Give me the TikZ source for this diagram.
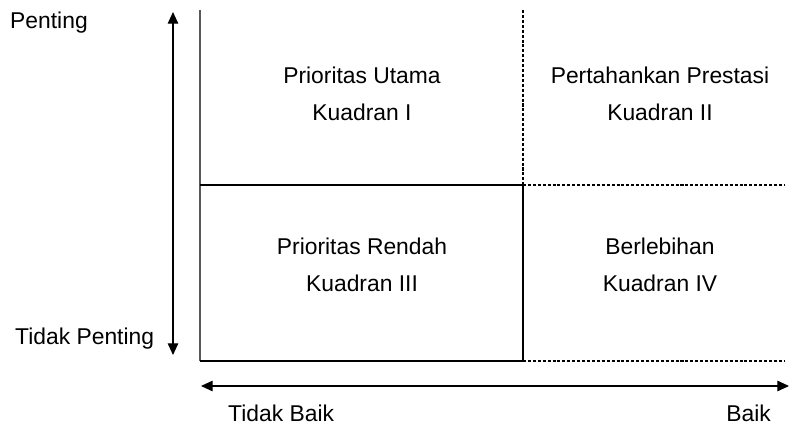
\documentclass[tikz,border=0pt]{standalone}
\usepackage{fontspec}
\setmainfont{Liberation Sans}
\usetikzlibrary{arrows.meta,positioning}
\tikzset{
  label/.style={font=\fontsize{19.5}{32}\selectfont, inner sep=0pt},
  quad/.style={label, align=center},
  solidline/.style={draw, line width=1pt},
  dotline/.style={draw, line width=1.7pt, dash pattern=on 2.6pt off 1.6pt},
  axis/.style={draw, line width=1pt, {Triangle[length=10pt,width=9pt]}-{Triangle[length=10pt,width=9pt]}}
}
\begin{document}
\begin{tikzpicture}[x=0.03cm, y=-0.03cm]
\useasboundingbox (0,0) rectangle (789,426);

% corners of the grid
\coordinate (tl) at (200,10);
\coordinate (tm) at (523,10);
\coordinate (ml) at (200,185);
\coordinate (mm) at (523,185);
\coordinate (mr) at (785,185);
\coordinate (bl) at (200,361);
\coordinate (bm) at (523,361);
\coordinate (br) at (785,361);

% axis ends
\coordinate (vtop) at (173,12);
\coordinate (vbot) at (173,355);
\coordinate (hleft) at (201,386);
\coordinate (hright) at (789,386);

% quadrant texts
\node [quad] (q1) at (362,94) {Prioritas Utama\\Kuadran I};
\node [quad] (q2) at (660,94) {Pertahankan Prestasi\\Kuadran II};
\node [quad] (q3) at (362,265) {Prioritas Rendah\\Kuadran III};
\node [quad] (q4) at (660,265) {Berlebihan\\Kuadran IV};

% axis labels
\node [label, anchor=west] (penting) at (10,23) {Penting};
\node [label, anchor=west] (tidakpenting) at (15,339) {Tidak Penting};
\node [label, anchor=west] (tidakbaik) at (228,413) {Tidak Baik};
\node [label, anchor=east] (baik) at (771,413) {Baik};

% grid lines
\path [solidline, draw=black!65] (tl) -- (bl);
\path [solidline] (ml) -- (mm);
\path [solidline] (mm) -- (bm);
\path [solidline] (bl) -- (bm);
\path [dotline] (tm) -- (mm);
\path [dotline] (mm) -- (mr);
\path [dotline] (bm) -- (br);

% axes
\path [axis] (vbot) -- (vtop);
\path [axis] (hleft) -- (hright);
\end{tikzpicture}
\end{document}
